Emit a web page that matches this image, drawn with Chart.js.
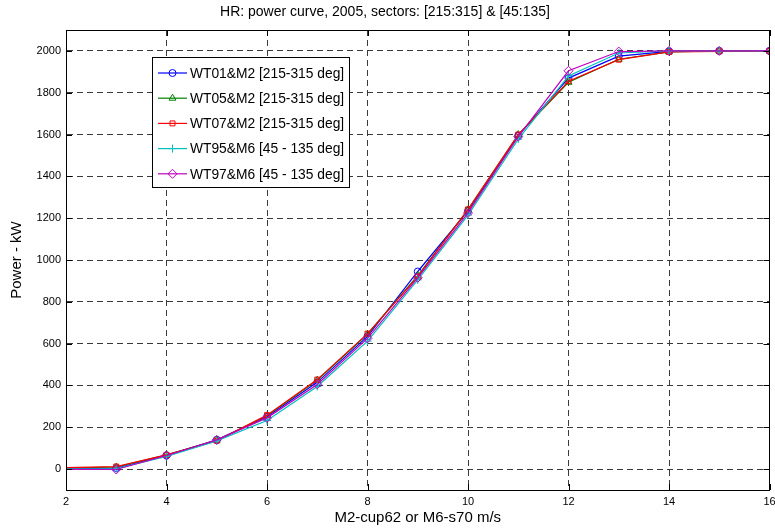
<!DOCTYPE html>
<html>
<head>
<meta charset="utf-8">
<script src="https://cdn.jsdelivr.net/npm/chart.js@4"></script>
<style>
  html, body { margin: 0; padding: 0; background: #fff; }
  #wrap { width: 775px; height: 531px; }
</style>
</head>
<body>
<div id="wrap"><canvas id="powerCurve" width="775" height="531"></canvas></div>
<script>
// wind speed bins (m/s)
var windSpeed = [1, 3, 4, 5, 6, 7, 8, 9, 10, 11, 12, 13, 14, 15, 16];

var wt01 = [0, 5, 65, 140, 250, 415, 635, 945, 1235, 1595, 1870, 1975, 1998, 2000, 2000];
var wt05 = [0, 10, 68, 138, 255, 425, 645, 925, 1240, 1600, 1850, 1960, 1995, 2000, 2000];
var wt07 = [2, 12, 68, 135, 258, 428, 648, 920, 1242, 1600, 1855, 1958, 1995, 1998, 2000];
var wt95 = [0, 2, 60, 135, 232, 395, 612, 905, 1215, 1578, 1880, 1990, 2000, 2000, 2000];
var wt97 = [0, -2, 65, 140, 245, 405, 625, 915, 1225, 1590, 1905, 1997, 2000, 2000, 2000];

var seriesLabels = [
  "WT01&M2 [215-315 deg]",
  "WT05&M2 [215-315 deg]",
  "WT07&M2 [215-315 deg]",
  "WT95&M6 [45 - 135 deg]",
  "WT97&M6 [45 - 135 deg]"
];

var xTicks = [2, 4, 6, 8, 10, 12, 14, 16];
var yTicks = [0, 200, 400, 600, 800, 1000, 1200, 1400, 1600, 1800, 2000];

var colors = ["#0000ff", "#008000", "#ff0000", "#00bfbf", "#bf00bf"];
var markers = ["circle", "triangle", "rect", "cross", "rectRot"];
var radii = [3.5, 4, 3.5, 4, 4.5];

function toPoints(vals) {
  return windSpeed.map(function (x, i) { return { x: x, y: vals[i] }; });
}

var allSeries = [wt01, wt05, wt07, wt95, wt97];
var datasets = allSeries.map(function (vals, i) {
  return {
    label: seriesLabels[i],
    data: toPoints(vals),
    borderColor: colors[i],
    borderWidth: 1.2,
    pointStyle: markers[i],
    pointRadius: radii[i],
    pointBorderColor: colors[i],
    pointBackgroundColor: "rgba(0,0,0,0)",
    pointBorderWidth: 1,
    tension: 0,
    order: 5 - i   // last series on top, like matlab
  };
});

var FONT = "'Liberation Sans', Arial, Helvetica, sans-serif";

// frame, inward ticks and the boxed legend
var matlabBits = {
  id: 'matlabBits',
  afterDraw: function (chart) {
    var c = chart.ctx, a = chart.chartArea;
    var xs = chart.scales.x, ys = chart.scales.y;
    c.save();
    c.strokeStyle = "#000";
    c.lineWidth = 1;
    c.setLineDash([]);
    c.beginPath();
    xTicks.forEach(function (v) {
      var px = Math.round(xs.getPixelForValue(v)) + 0.5;
      c.moveTo(px, a.bottom); c.lineTo(px, a.bottom - 6);
      c.moveTo(px, a.top); c.lineTo(px, a.top + 6);
    });
    yTicks.forEach(function (v) {
      var py = Math.round(ys.getPixelForValue(v)) + 0.5;
      c.moveTo(a.left, py); c.lineTo(a.left + 6, py);
      c.moveTo(a.right, py); c.lineTo(a.right - 6, py);
    });
    c.stroke();
    c.strokeRect(Math.round(a.left) + 0.5, Math.round(a.top) + 0.5,
      Math.round(a.right - a.left) - 1, Math.round(a.bottom - a.top));

    // legend
    var bx = 152.5, by = 57.5, bw = 197, bh = 130;
    c.fillStyle = "#fff";
    c.fillRect(bx, by, bw, bh);
    c.strokeRect(bx, by, bw, bh);
    c.font = "13.8px " + FONT;
    c.textBaseline = "middle";
    c.textAlign = "left";
    chart.data.datasets.forEach(function (ds, i) {
      var y = 73 + i * 25.2;
      c.strokeStyle = ds.borderColor;
      c.lineWidth = 1.2;
      c.beginPath();
      c.moveTo(158, y); c.lineTo(187, y);
      c.stroke();
      c.lineWidth = 1;
      c.fillStyle = "rgba(0,0,0,0)";
      Chart.helpers.drawPoint(c, {
        pointStyle: ds.pointStyle, radius: ds.pointRadius, rotation: 0,
        borderWidth: 1
      }, 172.5, y);
      c.fillStyle = "#000";
      c.fillText(ds.label, 190, y + 1);
    });
    c.restore();
  }
};

var ctx = document.getElementById("powerCurve").getContext('2d');
var myChart = new Chart(ctx, {
  type: 'line',
  data: { datasets: datasets },
  plugins: [matlabBits],
  options: {
    responsive: false,
    animation: false,
    layout: { padding: { left: 0, right: 5, top: 0, bottom: 0 } },
    plugins: {
      legend: { display: false },
      tooltip: { enabled: false },
      title: {
        display: true,
        text: "HR: power curve, 2005, sectors: [215:315] & [45:135]",
        color: "#000",
        font: { family: FONT, size: 14, weight: 'normal' },
        padding: { top: 3.6, bottom: 9.6 }
      }
    },
    scales: {
      x: {
        type: 'linear',
        min: 2,
        max: 16,
        afterBuildTicks: function (s) { s.ticks = xTicks.map(function (v) { return { value: v }; }); },
        afterFit: function (s) { s.height = 41; s.paddingRight = 0; s.paddingLeft = 0; },
        grid: { color: "#3a3a3a", lineWidth: 1, drawTicks: false },
        border: { display: true, color: "#000", width: 1, dash: [6, 4] },
        ticks: {
          color: "#000", padding: 5, maxRotation: 0, font: { family: FONT, size: 11 },
          callback: function (v) { return String(v); }
        },
        title: {
          display: true, text: "M2-cup62 or M6-s70 m/s", color: "#000",
          font: { family: FONT, size: 15 }, padding: { top: 4, bottom: 4 }
        }
      },
      y: {
        min: -100,
        max: 2100,
        afterBuildTicks: function (s) { s.ticks = yTicks.map(function (v) { return { value: v }; }); },
        afterFit: function (s) { s.width = 66; },
        grid: { color: "#3a3a3a", lineWidth: 1, drawTicks: false },
        border: { display: true, color: "#000", width: 1, dash: [6, 4] },
        ticks: {
          color: "#000", padding: 5, font: { family: FONT, size: 11 },
          callback: function (v) { return String(v); }
        },
        title: {
          display: true, text: "Power - kW", color: "#000",
          font: { family: FONT, size: 15 }, padding: { top: 8, bottom: 4 }
        }
      }
    }
  }
});
</script>
</body>
</html>
